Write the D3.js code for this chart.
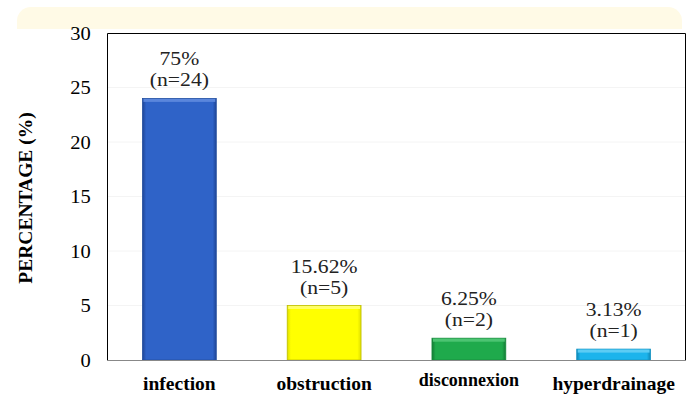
<!DOCTYPE html>
<html>
<head>
<meta charset="utf-8">
<script src="https://cdn.jsdelivr.net/npm/d3@7"></script>
<style>
  html, body { margin: 0; padding: 0; background: #fff; }
  svg { display: block; }
</style>
</head>
<body>
<svg id="chart" width="690" height="396"></svg>
<script>
// Shunt complication counts and their share of cases
const categories = ["infection", "obstruction", "disconnexion", "hyperdrainage"];
const counts = [24, 5, 2, 1];
const percentLabels = ["75%", "15.62%", "6.25%", "3.13%"];
const countLabels = ["(n=24)", "(n=5)", "(n=2)", "(n=1)"];
const yTicks = [0, 5, 10, 15, 20, 25, 30];
const barColors = [
  { base: "#2f63c8", dark: "#1f4596", light: "#5a86dc", stroke: "#244f9e" },
  { base: "#ffff00", dark: "#e0e000", light: "#ffff66", stroke: "#bdbd00" },
  { base: "#1faa4c", dark: "#137a34", light: "#4cc472", stroke: "#178a3c" },
  { base: "#1cb4ec", dark: "#0f86b4", light: "#5cccf4", stroke: "#1494c4" }
];

const FONT = '"Liberation Serif"';
const svg = d3.select("#chart");
const margin = { left: 107, right: 4, top: 33, bottom: 36 };
const W = 690, H = 396;
const x0 = margin.left, x1 = W - margin.right;
const y0 = H - margin.bottom, y1 = margin.top;

// Pale header band behind the chart
svg.append("rect")
  .attr("x", 17).attr("y", 7).attr("width", 665).attr("height", 40)
  .attr("rx", 14).attr("fill", "#fffae6");
svg.append("rect")
  .attr("x", 0).attr("y", 29).attr("width", W).attr("height", H - 29)
  .attr("fill", "#fff");

const x = d3.scaleBand().domain(categories).range([x0, x1]).paddingInner(0.49).paddingOuter(0.245);
const y = d3.scaleLinear().domain([0, 30]).range([y0, y1]);

// Faint horizontal gridlines
svg.append("g").selectAll("line").data(yTicks.slice(1, -1)).join("line")
  .attr("x1", x0).attr("x2", x1)
  .attr("y1", d => y(d)).attr("y2", d => y(d))
  .attr("stroke", "#f4f4f4").attr("stroke-width", 1);

// Plot frame: left, top and right edges in black
svg.append("path")
  .attr("d", `M${x0 + 0.5},${y0} V${y1 + 0.5} H${x1 - 0.5} V${y0}`)
  .attr("fill", "none").attr("stroke", "#000").attr("stroke-width", 1);

// Y axis tick labels
const yAxis = d3.axisLeft(y).tickValues(yTicks).tickSize(0).tickPadding(15);
const gy = svg.append("g").attr("transform", `translate(${x0},0)`).call(yAxis)
  .attr("font-family", null).attr("font-size", null);
gy.select(".domain").remove();
gy.selectAll("text")
  .attr("transform", "scale(1.08,1)")
  .style("font-family", FONT)
  .style("font-size", "19px").attr("fill", "#000");

// Gradients giving each bar a bevelled look
const defs = svg.append("defs");
barColors.forEach((c, i) => {
  const g = defs.append("linearGradient").attr("id", "bar" + i)
    .attr("x1", "0").attr("x2", "1").attr("y1", "0").attr("y2", "0");
  g.append("stop").attr("offset", "0%").attr("stop-color", c.dark);
  g.append("stop").attr("offset", "5%").attr("stop-color", c.base);
  g.append("stop").attr("offset", "95%").attr("stop-color", c.base);
  g.append("stop").attr("offset", "100%").attr("stop-color", c.dark);
});

const bars = svg.append("g").selectAll("g").data(categories).join("g");
bars.append("rect")
  .attr("x", d => x(d))
  .attr("y", (d, i) => y(counts[i]))
  .attr("width", x.bandwidth())
  .attr("height", (d, i) => y0 - y(counts[i]))
  .attr("fill", (d, i) => `url(#bar${i})`)
  .attr("stroke", (d, i) => barColors[i].stroke)
  .attr("stroke-width", 0.8);
// light top bevel
bars.append("rect")
  .attr("x", d => x(d) + 1)
  .attr("y", (d, i) => y(counts[i]) + 0.5)
  .attr("width", x.bandwidth() - 2)
  .attr("height", 3)
  .attr("fill", (d, i) => barColors[i].light);

// Bottom axis line
svg.append("line")
  .attr("x1", x0).attr("x2", x1).attr("y1", y0 + 0.5).attr("y2", y0 + 0.5)
  .attr("stroke", "#888").attr("stroke-width", 1.2);

// Value labels above each bar (slightly widened type)
const lab = svg.append("g").attr("fill", "#222").attr("text-anchor", "middle");
lab.selectAll("text.pct").data(categories).join("text").attr("class", "pct")
  .attr("transform", (d, i) => `translate(${x(d) + x.bandwidth() / 2},${y(counts[i]) - 33}) scale(1.14,1)`)
  .style("font-family", FONT).style("font-size", "19px")
  .text((d, i) => percentLabels[i]);
lab.selectAll("text.cnt").data(categories).join("text").attr("class", "cnt")
  .attr("transform", (d, i) => `translate(${x(d) + x.bandwidth() / 2},${y(counts[i]) - 12}) scale(1.14,1)`)
  .style("font-family", FONT).style("font-size", "19px")
  .text((d, i) => countLabels[i]);

// Category labels
svg.append("g").selectAll("text").data(categories).join("text")
  .attr("x", d => x(d) + x.bandwidth() / 2)
  .attr("y", (d, i) => i === 2 ? 386 : 390)
  .attr("text-anchor", "middle")
  .style("font-family", FONT)
  .style("font-weight", "bold")
  .style("font-size", (d, i) => i === 2 ? "18px" : "19.5px")
  .attr("fill", "#000")
  .text(d => d);

// Y axis title
svg.append("text")
  .attr("transform", `translate(32,198) rotate(-90)`)
  .attr("text-anchor", "middle")
  .style("font-family", FONT)
  .style("font-weight", "bold").style("font-size", "19.5px").attr("fill", "#000")
  .text("PERCENTAGE (%)");
</script>
</body>
</html>
